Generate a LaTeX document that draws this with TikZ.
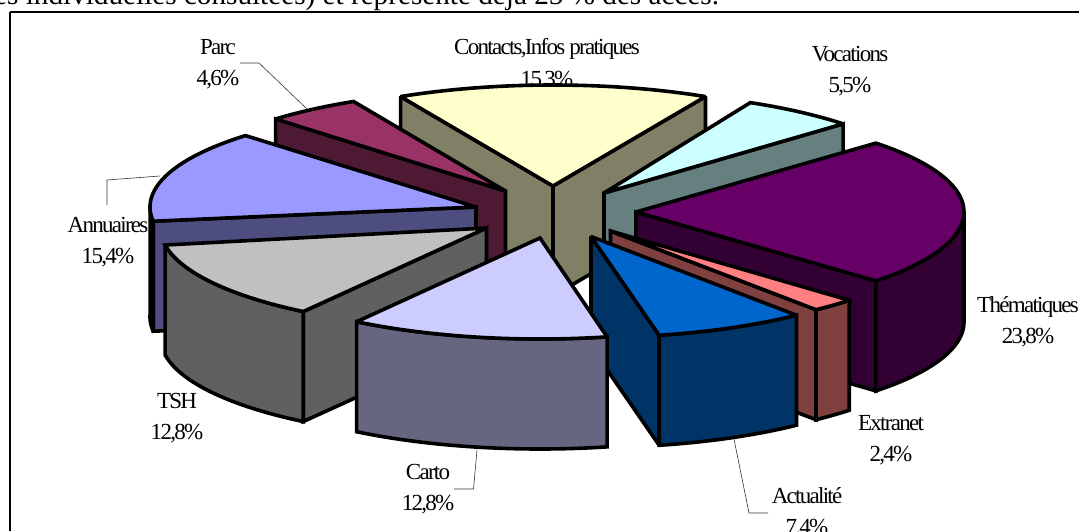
\documentclass[tikz,border=0pt]{standalone}
\usepackage{fontspec}
\setmainfont{Liberation Serif}
\definecolor{themT}{HTML}{660066}\definecolor{themW}{HTML}{330033}
\definecolor{vocT}{HTML}{CCFFFF}\definecolor{vocW}{HTML}{668080}
\definecolor{conT}{HTML}{FFFFCC}\definecolor{conW}{HTML}{808066}
\definecolor{parT}{HTML}{993366}\definecolor{parW}{HTML}{4D1933}
\definecolor{annT}{HTML}{9999FF}\definecolor{annW}{HTML}{4D4D80}
\definecolor{tshT}{HTML}{C0C0C0}\definecolor{tshW}{HTML}{606060}
\definecolor{carT}{HTML}{CCCCFF}\definecolor{carW}{HTML}{666680}
\definecolor{actT}{HTML}{0066CC}\definecolor{actW}{HTML}{003366}
\definecolor{extT}{HTML}{FF8080}\definecolor{extW}{HTML}{804040}
\tikzset{
  face/.style={draw=black,line width=3.6pt,line join=miter,miter limit=2},
  leader/.style={draw=black!80,line width=0.6pt},
  lab/.style={align=center,inner sep=0pt,anchor=center,font=\fontsize{23}{31.5}\selectfont\addfontfeature{LetterSpace=-7.5}},
}
\def\rx{328}
% #1,#2 apex; #3 rim angle; #4 colour
\newcommand\radwall[4]{\path[face,fill=#4] (#1,#2) -- ({#1+\rx*cos(#3)},{#2+101*sin(#3)}) -- ({#1+\rx*cos(#3)},{#2+110+101*sin(#3)}) -- (#1,#2+110) -- cycle;}
% #1,#2 apex; #3,#4 angles; #5 colour
\newcommand\rimwall[5]{\path[face,fill=#5] plot[domain=#3:#4,samples=30,smooth] ({#1+\rx*cos(\x)},{#2+101*sin(\x)}) -- plot[domain=#4:#3,samples=30,smooth] ({#1+\rx*cos(\x)},{#2+110+101*sin(\x)}) -- cycle;}
\newcommand\toppie[5]{\path[face,fill=#5] (#1,#2) -- plot[domain=#3:#4,samples=30,smooth] ({#1+\rx*cos(\x)},{#2+101*sin(\x)}) -- cycle;}
\begin{document}
\begin{tikzpicture}[x=1pt,y=-1pt]
\useasboundingbox (0,0) rectangle (1079,531);
\fill[white] (0,0) rectangle (1079,531);
\node[anchor=base west,inner sep=0pt,font=\fontsize{29.2}{34}\selectfont] (head) at (-6,4.5) {es individuelles consultées) et représente déjà 25 \% des accès.};
\draw[line width=1.5pt] (10,12) -- (1079,12) (10,12) -- (10,531);
% labels behind the pie
\node[lab] (lcon) at (547,64) {Contacts,Infos pratiques\\15,3\%};
% Contacts
\radwall{553}{186}{242.3}{conW}
\radwall{553}{186}{297.7}{conW}
\toppie{553}{186}{242.3}{297.7}{conT}
% Vocations
\radwall{604}{193}{316.8}{vocW}
\toppie{604}{193}{296.5}{316.8}{vocT}
% Parc
\radwall{505.5}{191}{225.5}{parW}
\toppie{505.5}{191}{225.5}{242.4}{parT}
% Thématiques
\radwall{636}{212}{43}{themW}
\rimwall{636}{212}{0}{43}{themW}
\toppie{636}{212}{-43}{43}{themT}
% Annuaires
\def\rx{326}
\radwall{476}{207}{171.9}{annW}
\rimwall{476}{207}{171.9}{181}{annW}
\toppie{476}{207}{171.9}{225}{annT}
% TSH
\radwall{486.5}{228}{124.2}{tshW}
\rimwall{486.5}{228}{124.2}{170.3}{tshW}
\toppie{486.5}{228}{124.2}{170.3}{tshT}
\def\rx{328}
% Extranet
\radwall{610.5}{231}{51.2}{extW}
\rimwall{610.5}{231}{43.3}{51.2}{extW}
\toppie{610.5}{231}{43.3}{51.2}{extT}
% Actualité
\radwall{591}{236.5}{78}{actW}
\rimwall{591}{236.5}{51.2}{78}{actW}
\toppie{591}{236.5}{51.2}{78}{actT}
% Carto
\rimwall{540}{238}{78.2}{124}{carW}
\toppie{540}{238}{78.2}{124}{carT}
% labels
\node[lab] (lpar) at (218,64) {Parc\\4,6\%};
\node[lab] (lvoc) at (850,71) {Vocations\\5,5\%};
\node[lab] (lann) at (108,242) {Annuaires\\15,4\%};
\node[lab] (ltsh) at (177,418) {TSH\\12,8\%};
\node[lab] (lcar) at (428,489) {Carto\\12,8\%};
\node[lab] (lact) at (807,513) {Actualité\\7,4\%};
\node[lab] (lext) at (891,440) {Extranet\\2,4\%};
\node[lab] (lthe) at (1028,322) {Thématiques\\23,8\%};
% leaders
\coordinate (p1) at (240,63);\coordinate (p2) at (259,63);\coordinate (p3) at (307,109);
\draw[leader] (p1) -- (p2) -- (p3);
\coordinate (a1) at (160,176);\coordinate (a2) at (107,180);\coordinate (a3) at (107,205);
\draw[leader] (a1) -- (a2) -- (a3);
\coordinate (c1) at (477,450);\coordinate (c2) at (473.5,489);\coordinate (c3) at (454,489);
\draw[leader] (c1) -- (c2) -- (c3);
\coordinate (d1) at (734,439);\coordinate (d2) at (749,513);\coordinate (d3) at (768,513);
\draw[leader] (d1) -- (d2) -- (d3);
\end{tikzpicture}
\end{document}
